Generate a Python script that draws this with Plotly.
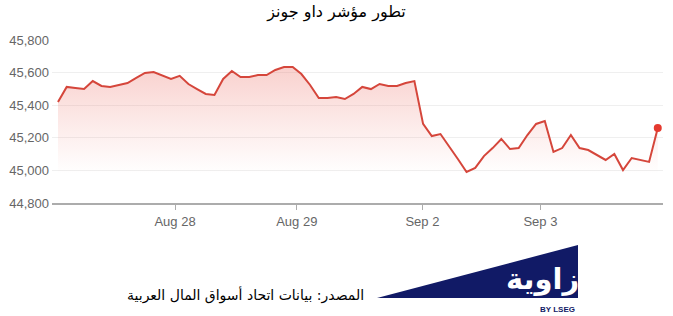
import plotly.graph_objects as go

# Dow Jones index, intraday (30-min) values, Aug 27 - Sep 3
values = [
    45420, 45512, 45505, 45499, 45548, 45518, 45512, 45524, 45536, 45567,
    45598, 45604, 45580, 45561, 45580, 45530, 45499, 45469, 45463, 45561,
    45610, 45573, 45573, 45585, 45585, 45616, 45634, 45634, 45591, 45524,
    45444, 45444, 45450, 45438, 45469, 45512, 45499, 45530, 45518, 45518,
    45536, 45548, 45285, 45211, 45223, 45150, 45070, 44990, 45015, 45088,
    45137, 45193, 45131, 45137, 45217, 45285, 45303, 45113, 45137, 45217,
    45137, 45125, 45094, 45064, 45101, 45002, 45076, 45064, 45052, 45260,
]
x_idx = list(range(len(values)))

tick_positions = [13.46, 27.47, 41.92, 55.5]
tick_labels = ["Aug 28", "Aug 29", "Sep 2", "Sep 3"]
y_ticks = [44800, 45000, 45200, 45400, 45600, 45800]

title_text = "تطور مؤشر داو جونز"
source_text = "المصدر: بيانات اتحاد أسواق المال العربية"
logo_text = "زاوية"
logo_sub = "BY LSEG"

LINE = "#d5463b"
NAVY = "#111a66"
W, H = 673, 316
ML, MR, MT, MB = 52, 10, 40, 113
PW, PH = W - ML - MR, H - MT - MB


def px(xp):
    return (xp - ML) / PW


def py(yp):
    return (H - MB - yp) / PH


fig = go.Figure()
fig.add_trace(go.Scatter(
    x=x_idx, y=values, mode="lines",
    line=dict(color=LINE, width=2),
    fill="tozeroy",
    fillgradient=dict(
        type="vertical",
        start=44980, stop=45640,
        colorscale=[[0, "rgba(240,120,110,0)"], [1, "rgba(235,110,100,0.32)"]],
    ),
    hoverinfo="skip", showlegend=False,
))
fig.add_trace(go.Scatter(
    x=[x_idx[-1]], y=[values[-1]], mode="markers",
    marker=dict(color="#e53a2f", size=8),
    showlegend=False, hoverinfo="skip",
))

fig.update_layout(
    width=W, height=H,
    margin=dict(l=ML, r=MR, t=MT, b=MB),
    paper_bgcolor="white", plot_bgcolor="white",
    font=dict(family="Liberation Sans, Arial, sans-serif", color="#666666", size=13),
    title=dict(
        text=title_text, x=0.5, xanchor="center", y=0.965, yanchor="middle",
        font=dict(family="DejaVu Sans", size=16, color="#000000"),
    ),
    xaxis=dict(
        range=[-0.69, 69.6], tickmode="array",
        tickvals=tick_positions, ticktext=tick_labels,
        showgrid=False, zeroline=False,
        showline=True, linecolor="#acacac", linewidth=2,
        ticks="outside", ticklen=5, tickcolor="#acacac", tickwidth=1,
        tickfont=dict(size=13, color="#666666"),
    ),
    yaxis=dict(
        range=[44800, 45800], tickmode="array", tickvals=y_ticks,
        tickformat=",d", showgrid=True, gridcolor="#efefef", gridwidth=1,
        zeroline=False, showline=False, ticks="", ticklabelstandoff=2,
        tickfont=dict(size=13, color="#666666"),
    ),
    shapes=[
        dict(type="path", xref="paper", yref="paper",
             path=f"M {px(377)} {py(298)} L {px(578)} {py(245)} L {px(578)} {py(298)} Z",
             fillcolor=NAVY, line=dict(width=0), layer="above"),
    ],
    annotations=[
        dict(text=source_text, xref="paper", yref="paper",
             x=px(366), y=py(295), xanchor="right", yanchor="middle",
             showarrow=False,
             font=dict(family="DejaVu Sans", size=14, color="#000000")),
        dict(text=f"<b>{logo_text}</b>", xref="paper", yref="paper",
             x=px(581), y=py(279), xanchor="right", yanchor="middle",
             showarrow=False,
             font=dict(family="DejaVu Sans", size=29, color="white")),
        dict(text=f"<b>{logo_sub}</b>", xref="paper", yref="paper",
             x=px(577), y=py(309), xanchor="right", yanchor="middle",
             showarrow=False,
             font=dict(family="Liberation Sans", size=8, color=NAVY)),
    ],
)

fig.write_html("out.html")
